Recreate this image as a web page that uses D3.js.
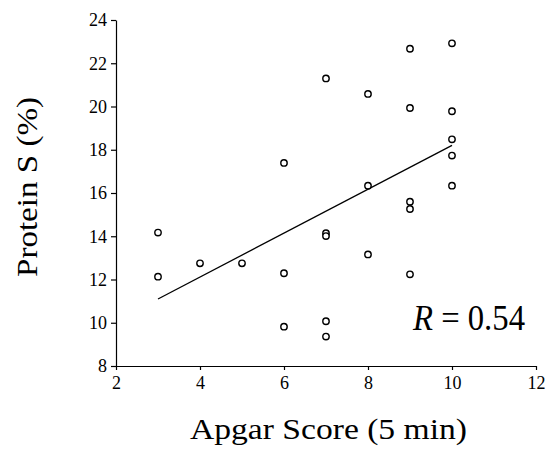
<!DOCTYPE html>
<html>
<head>
<meta charset="utf-8">
<script src="https://cdn.jsdelivr.net/npm/d3@7"></script>
<style>
    body { margin: 0; background: #fff; }
    svg { display: block; }
    .axis text { font-family: "Liberation Serif", "Times New Roman", serif; font-size: 18px; fill: #000; }
    .axis path, .axis line { stroke: #000; stroke-width: 1.2; }
    .title { font-family: "Liberation Serif", "Times New Roman", serif; fill: #000; }
</style>
</head>
<body>
<div id="chart"></div>
<script>
// Apgar score (5 min) vs protein S (%)
var apgar = [3, 3, 4, 5, 6, 6, 6, 7, 7, 7, 7, 7, 8, 8, 8, 9, 9, 9, 9, 9, 10, 10, 10, 10, 10];
var proteinS = [14.17, 12.13, 12.75, 12.75, 17.39, 12.29, 9.82, 21.3, 14.14, 14.01, 10.07, 9.36,
    20.58, 16.34, 13.16, 22.67, 19.93, 15.6, 15.26, 12.24, 22.92, 19.78, 18.48, 17.73, 16.34];

// regression line end points
var fitX = [3, 10];
var fitY = [11.1, 18.2];

var xTicks = [2, 4, 6, 8, 10, 12];
var yTicks = [8, 10, 12, 14, 16, 18, 20, 22, 24];

var width = 551, height = 454;
var margin = { top: 20, right: 15, bottom: 88, left: 116 };

var svg = d3.select("#chart")
    .append("svg")
    .attr("width", width)
    .attr("height", height);

var x = d3.scaleLinear()
    .domain([2, 12])
    .range([margin.left, width - margin.right]);

var y = d3.scaleLinear()
    .domain([8, 24])
    .range([height - margin.bottom, margin.top]);

svg.append("g")
    .attr("class", "axis")
    .attr("transform", "translate(0," + y(8) + ")")
    .call(d3.axisBottom(x).tickValues(xTicks).tickSize(4).tickSizeOuter(0).tickPadding(6));

svg.append("g")
    .attr("class", "axis")
    .attr("transform", "translate(" + x(2) + ",0)")
    .call(d3.axisLeft(y).tickValues(yTicks).tickSize(5).tickSizeOuter(0).tickPadding(4));

// fitted line
svg.append("line")
    .attr("x1", x(fitX[0]))
    .attr("y1", y(fitY[0]))
    .attr("x2", x(fitX[1]))
    .attr("y2", y(fitY[1]))
    .attr("stroke", "#000")
    .attr("stroke-width", 1.3);

svg.selectAll(".dot")
    .data(apgar)
    .enter()
    .append("circle")
    .attr("class", "dot")
    .attr("cx", function (d) { return x(d); })
    .attr("cy", function (d, i) { return y(proteinS[i]); })
    .attr("r", 3.2)
    .attr("fill", "#fff")
    .attr("stroke", "#000")
    .attr("stroke-width", 1.4);

// axis titles
svg.append("text")
    .attr("class", "title")
    .attr("x", 190)
    .attr("y", 439)
    .attr("textLength", 277)
    .attr("lengthAdjust", "spacingAndGlyphs")
    .style("font-size", "29px")
    .text("Apgar Score (5 min)");

svg.append("text")
    .attr("class", "title")
    .attr("transform", "translate(37,277) rotate(-90)")
    .attr("textLength", 180)
    .attr("lengthAdjust", "spacingAndGlyphs")
    .style("font-size", "30px")
    .text("Protein S (%)");

// correlation label
var rLabel = svg.append("text")
    .attr("class", "title")
    .attr("x", 413)
    .attr("y", 330)
    .attr("textLength", 112)
    .attr("lengthAdjust", "spacingAndGlyphs")
    .style("font-size", "35px");
rLabel.append("tspan").style("font-style", "italic").text("R");
rLabel.append("tspan").text(" = 0.54");
</script>
</body>
</html>
